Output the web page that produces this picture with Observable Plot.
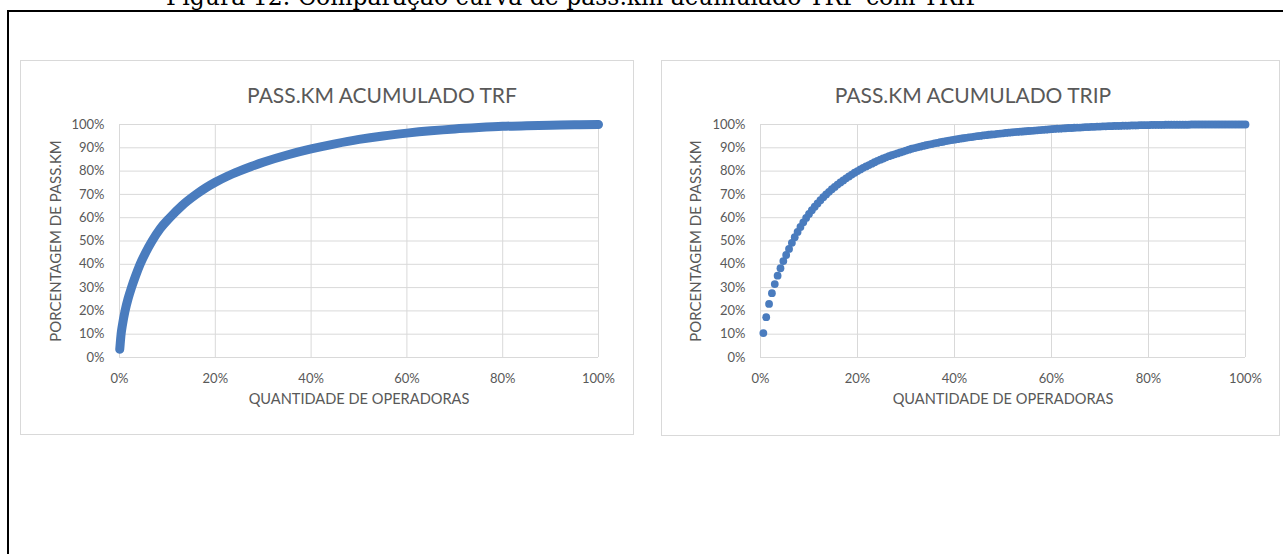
<!DOCTYPE html>
<html>
<head>
<meta charset="utf-8">
<script src="https://cdn.jsdelivr.net/npm/d3@7"></script>
<script src="https://cdn.jsdelivr.net/npm/@observablehq/plot@0.6"></script>
<style>
  html, body { margin: 0; padding: 0; background: #fff; }
  body { width: 1283px; height: 554px; position: relative; overflow: hidden; }
  #caption { position: absolute; left: 0; top: 0; }
  #frame { position: absolute; left: 7px; top: 9.5px; right: -10px; bottom: -10px;
           border-left: 2px solid #000; border-top: 2.2px solid #000; }
  .panel { position: absolute; border: 1px solid #d9d9d9; background: #fff; }
  .panel svg { display: block; }
</style>
</head>
<body>
<svg id="caption" width="1283" height="12">
  <text x="166" y="4.5" font-family="DejaVu Serif" font-size="23.5" fill="#000">Figura 12: Comparação curva de pass.km acumulado TRF com TRIP</text>
</svg>
<div id="frame"></div>
<div class="panel" id="trf" style="left:20px; top:60px;"></div>
<div class="panel" id="trip" style="left:661px; top:60px;"></div>
<script>
// Axis ticks shared by both charts
const yTicks = [0, 0.1, 0.2, 0.3, 0.4, 0.5, 0.6, 0.7, 0.8, 0.9, 1];
const xTicks = [0, 0.2, 0.4, 0.6, 0.8, 1];

// TRF: cumulative share of operators vs cumulative share of pass.km
const trfOperators = [0.0005, 0.0015, 0.0033, 0.006, 0.0116, 0.018, 0.025, 0.033, 0.043, 0.055,
  0.068, 0.085, 0.105, 0.130, 0.160, 0.180, 0.200, 0.225, 0.250, 0.275,
  0.300, 0.350, 0.400, 0.450, 0.500, 0.550, 0.600, 0.650, 0.700, 0.750,
  0.800, 0.850, 0.900, 0.950, 1.000];
const trfPassKm = [0.035, 0.06, 0.10, 0.138, 0.20, 0.253, 0.30, 0.347, 0.40, 0.452,
  0.50, 0.553, 0.60, 0.651, 0.70, 0.728, 0.752, 0.778, 0.800, 0.820,
  0.838, 0.869, 0.895, 0.917, 0.936, 0.951, 0.963, 0.973, 0.981, 0.987,
  0.992, 0.995, 0.997, 0.999, 1.0];

// TRIP: cumulative pass.km share after each operator (sorted by size)
const tripPassKm = [
  0.105, 0.173, 0.230, 0.276, 0.315, 0.351, 0.383, 0.414, 0.440, 0.466,
  0.492, 0.516, 0.539, 0.560, 0.580, 0.599, 0.616, 0.632, 0.647, 0.661,
  0.675, 0.688, 0.700, 0.711, 0.722, 0.732, 0.742, 0.751, 0.760, 0.769,
  0.777, 0.785, 0.793, 0.800, 0.807, 0.814, 0.820, 0.826, 0.832, 0.838,
  0.844, 0.849, 0.854, 0.859, 0.864, 0.868, 0.872, 0.876, 0.880, 0.884,
  0.888, 0.892, 0.896, 0.899, 0.902, 0.905, 0.908, 0.911, 0.914, 0.916,
  0.919, 0.921, 0.924, 0.926, 0.929, 0.931, 0.933, 0.935, 0.937, 0.939,
  0.941, 0.943, 0.945, 0.946, 0.948, 0.950, 0.951, 0.953, 0.954, 0.956,
  0.957, 0.958, 0.960, 0.961, 0.962, 0.964, 0.965, 0.966, 0.967, 0.968,
  0.969, 0.970, 0.971, 0.972, 0.973, 0.974, 0.975, 0.976, 0.977, 0.978,
  0.979, 0.980, 0.981, 0.982, 0.982, 0.983, 0.984, 0.985, 0.985, 0.986,
  0.987, 0.987, 0.988, 0.989, 0.989, 0.990, 0.990, 0.991, 0.991, 0.992,
  0.992, 0.993, 0.993, 0.994, 0.994, 0.994, 0.995, 0.995, 0.995, 0.996,
  0.996, 0.996, 0.997, 0.997, 0.997, 0.997, 0.998, 0.998, 0.998, 0.998,
  0.998, 0.999, 0.999, 0.999, 0.999, 0.999, 0.999, 0.999, 0.999, 0.999,
  1.000, 1.000, 1.000, 1.000, 1.000, 1.000, 1.000, 1.000, 1.000, 1.000,
  1.000, 1.000, 1.000, 1.000, 1.000, 1.000, 1.000, 1.000, 1.000, 1.000];

const blue = "#4a7cbe";
const textGray = "#595959";
const gridGray = "#d9d9d9";
const pct = d3.format(".0%");

function panel({width, height, marginLeft, marginRight, marginTop, marginBottom, title, titleDx, yLabelDx, data}) {
  return Plot.plot({
    width, height, marginLeft, marginRight, marginTop, marginBottom,
    x: {domain: [0, 1]},
    y: {domain: [0, 1]},
    style: {fontFamily: "Lato, sans-serif", color: textGray, background: "transparent", overflow: "visible"},
    marks: [
      Plot.gridY(yTicks, {stroke: gridGray, strokeOpacity: 1}),
      Plot.gridX(xTicks, {stroke: gridGray, strokeOpacity: 1}),
      Plot.axisY(yTicks, {tickSize: 0, tickPadding: 15, tickFormat: pct, fontSize: 13, label: null}),
      Plot.axisX(xTicks, {tickSize: 0, tickPadding: 16, tickFormat: pct, fontSize: 13, label: null}),
      ...data,
      Plot.text([title], {frameAnchor: "top", dx: titleDx, dy: -36, fontSize: 21, fill: textGray}),
      Plot.text(["QUANTIDADE DE OPERADORAS"], {frameAnchor: "bottom", dy: 46, fontSize: 14.6, fill: textGray}),
      Plot.text(["PORCENTAGEM DE PASS.KM"], {frameAnchor: "left", dx: yLabelDx, rotate: -90, textAnchor: "middle", fontSize: 15, fill: textGray})
    ]
  });
}

const trfRows = trfOperators.map((x, i) => ({x, y: trfPassKm[i]}));
const tripRows = tripPassKm.map((y, i) => ({x: (i + 1) / tripPassKm.length, y}));

document.getElementById("trf").append(panel({
  width: 612, height: 373, marginLeft: 98, marginRight: 35, marginTop: 63, marginBottom: 77,
  title: "PASS.KM ACUMULADO TRF", titleDx: 23, yLabelDx: -63,
  data: [
    Plot.line(trfRows, {x: "x", y: "y", stroke: blue, strokeWidth: 9, strokeLinecap: "round", strokeLinejoin: "round", curve: "monotone-x"})
  ]
}));

document.getElementById("trip").append(panel({
  width: 617, height: 374, marginLeft: 98, marginRight: 34, marginTop: 63, marginBottom: 78,
  title: "PASS.KM ACUMULADO TRIP", titleDx: -30, yLabelDx: -64,
  data: [
    Plot.dot(tripRows, {x: "x", y: "y", r: 3.9, fill: blue, stroke: "none"})
  ]
}));
</script>
</body>
</html>
